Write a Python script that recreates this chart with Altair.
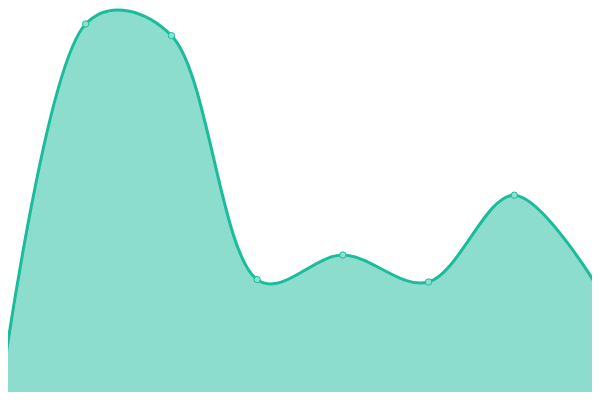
import altair as alt
import pandas as pd

idx = [0, 1, 2, 3, 4, 5, 6, 7]
values = [0.75, 94, 91.1, 30.1, 36.25, 29.5, 51.2, 27.25]

df = pd.DataFrame({"i": idx, "v": values})

x = alt.X("i:Q", scale=alt.Scale(domain=[0.0933333, 6.9066667], nice=False, zero=False), axis=None)
y = alt.Y("v:Q", scale=alt.Scale(domain=[2, 98], nice=False, zero=False), axis=None)

area = alt.Chart(df).mark_area(
    interpolate="catmull-rom", tension=0.35, color="#1abc9c", fillOpacity=0.5,
    line={"color": "#1abc9c", "strokeWidth": 3}
).encode(x=x, y=y, y2=alt.datum(0))

pts = alt.Chart(df).mark_point(
    filled=True, fill="#8ee0d0", stroke="#1abc9c", strokeWidth=1, size=40, opacity=1
).encode(x=x, y=y)

chart = (area + pts).properties(
    width=584, height=384, padding=0,
    autosize=alt.AutoSizeParams(type="none")
).configure_view(stroke=None)

chart.save("out.html", embed_options={"renderer": "svg", "actions": False})
